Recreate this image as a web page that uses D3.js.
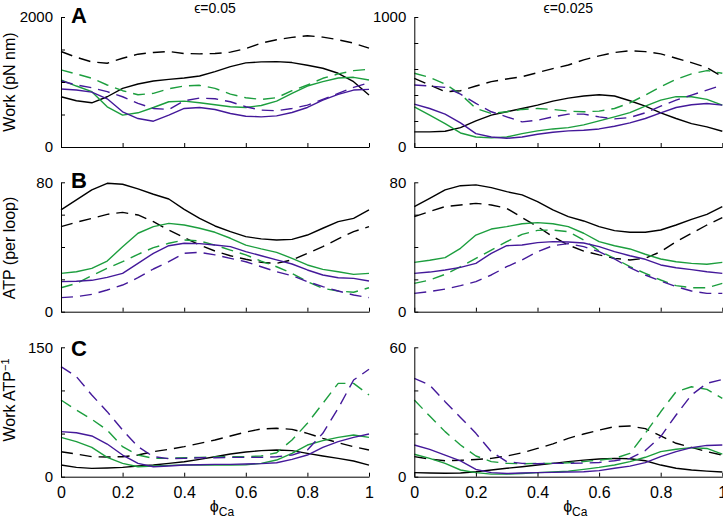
<!DOCTYPE html>
<html><head><meta charset="utf-8">
<script src="https://cdn.jsdelivr.net/npm/d3@7"></script>
<style>
body{margin:0;background:#fff}
svg{display:block}
text{font-family:"Liberation Sans",Arial,Helvetica,sans-serif;fill:#000}
</style>
</head><body>
<svg id="c" width="723" height="519"></svg>
<script>
// ---- x categories (phi_Ca) ----
const phi = [0,0.05,0.1,0.15,0.2,0.25,0.3,0.35,0.4,0.45,0.5,0.55,0.6,0.65,0.7,0.75,0.8,0.85,0.9,0.95,1];
const xTicks = [0,0.2,0.4,0.6,0.8,1];
const xTickLabels = ["0","0.2","0.4","0.6","0.8","1"];
const colTitles = ["\u03F5=0.05","\u03F5=0.025"];
const rowLetters = ["A","B","C"];

// ---- y axis maxima and tick values ----
const yMaxA = [2000,1000], yTicksAL = [0,500,1000,1500,2000], yTicksAR = [0,200,400,600,800,1000];
const yMaxB = [80,80],     yTicksBL = [0,20,40,60,80],      yTicksBR = [0,20,40,60,80];
const yMaxC = [150,60],    yTicksCL = [0,50,100,150],       yTicksCR = [0,20,40,60];

// ---- A: Work (pN nm), eps=0.05 ----
const aL_blk  = [773,711,680,773,902,969,1015,1041,1062,1093,1160,1237,1294,1309,1314,1299,1258,1211,1134,1005,799];
const aL_blkD = [1469,1380,1309,1289,1366,1428,1454,1469,1438,1433,1438,1459,1515,1598,1650,1686,1711,1691,1650,1598,1520];
const aL_grn  = [1031,938,851,619,490,526,608,696,706,680,650,619,608,639,706,825,938,1005,1062,1072,1031];
const aL_grnD = [1186,1124,1057,954,866,804,825,897,938,949,902,814,758,732,758,866,954,1057,1124,1175,1196];
const aL_pur  = [892,876,845,742,541,438,397,490,593,608,577,516,474,464,479,531,608,722,809,876,887];
const aL_purD = [1015,954,912,851,773,670,593,577,711,753,742,696,619,567,557,593,644,732,825,918,990];
// ---- A: eps=0.025 ----
const aR_blk  = [116,116,121,149,201,245,271,296,322,353,376,392,402,392,356,314,263,219,180,155,121];
const aR_blkD = [528,477,425,433,469,503,523,541,572,603,631,670,701,727,740,734,716,683,649,611,541];
const aR_grn  = [309,245,180,108,77,70,77,103,124,139,149,170,201,232,265,314,361,387,387,366,322];
const aR_grnD = [567,536,484,407,296,258,271,289,296,289,276,271,276,296,340,399,464,521,562,588,567];
const aR_pur  = [330,296,253,186,103,77,67,77,98,113,124,129,139,160,186,219,263,304,325,335,322];
const aR_purD = [477,469,459,407,335,271,232,193,206,232,253,253,232,216,227,263,314,361,399,438,477];

// ---- B: ATP (per loop), eps=0.05 ----
const bL_blk  = [62.9,69.1,75.3,79.4,78.8,75.9,72.6,69.7,63.3,57.7,53,49.5,46.4,45,44.3,44.7,47.4,51.6,55.7,57.7,62.9];
const bL_blkD = [52.6,55.3,57.7,60.2,61.4,59.8,55.7,50.5,45.8,41.2,37.5,34.6,32.4,30.5,29.9,32,36.1,40.2,45,49.5,52.6];
const bL_grn  = [23.7,24.7,26.8,31.3,40.2,48.5,52.6,54.6,53.6,51.6,49.1,45.4,41.2,38.8,36.7,33,28.9,26.2,24.7,23.1,23.7];
const bL_grnD = [14.8,17.5,22.3,26.8,30.9,35.5,39.6,42.3,44.3,43.7,41.2,38.1,35.1,31.3,27.8,23.7,18.6,14.4,12.8,12,14.8];
const bL_pur  = [18.6,18.8,19.4,21.2,23.7,29.9,36.1,40.8,42.3,42.1,41.2,40.2,37.1,34.6,32,29.5,25.8,22.7,21,20.6,19];
const bL_purD = [8.7,9.3,10.7,13.4,16.5,21,26.4,30.9,36.1,36.7,35.1,33,30.9,27.8,24.7,22.3,18.6,15.5,12.8,10.3,8.7];
// ---- B: eps=0.025 ----
const bR_blk  = [65,70.1,75.3,77.9,78.4,76.7,74.2,72.2,68,62.9,58.8,56.1,52.6,50.1,49.1,49.1,50.5,53.6,57.1,60.2,65];
const bR_blkD = [58.8,61.9,65,66,67,66,63.9,58.2,52.6,46.4,41.2,37.5,35.1,33,32,33,37.1,43.3,48.5,53.6,58.2];
const bR_grn  = [30.5,31.8,33.4,39.2,47.4,51.1,52.6,54.4,55.1,54.4,52.6,48.5,43.3,40.8,38.8,35.5,32.6,30.9,29.9,29.3,30.5];
const bR_grnD = [17.5,19.6,23.1,27.8,33,38.1,43.3,47.8,50.3,50.5,49.5,44.3,37.5,33,27.8,23.7,19.6,16.1,14.8,14.8,17.5];
const bR_pur  = [23.7,24.5,25.8,27.4,29.9,36.1,40.8,41.2,42.7,43.3,43.1,42.5,40.2,37.1,34.6,32.4,28.9,27.2,26,24.7,23.7];
const bR_purD = [11.3,12.4,14,16.1,18.6,22.7,27.8,32,37.1,40.8,42.1,40.2,37.1,32.6,27.2,22.7,19,15.5,12.8,11.3,11.3];

// ---- C: Work ATP^-1, eps=0.05 ----
const cL_blk  = [13.5,10.8,9.7,10.1,10.8,12.4,13.5,15.5,17.4,20.1,23.2,26.3,28.6,30.2,30.9,30.2,27.1,24,21.3,18.2,13.5];
const cL_blkD = [29,26.3,23.2,22.8,23.2,25.1,29,31.7,34.8,38.7,42.5,47.2,51.8,55.3,56.1,54.9,50.3,44.5,39.4,34.8,30.9];
const cL_grn  = [45.6,40.6,34,22.4,15.5,11.6,12.4,13.1,13.5,13.5,13.5,13.5,13.9,15.5,19.3,27.1,36.7,41.8,45.6,48.3,45.6];
const cL_grnD = [88.9,77.3,66.5,54.1,34.8,25.1,21.3,21.3,22,22.4,22.8,23.2,23.2,24,27.8,42.5,61.9,85,108.2,108.2,94.7];
const cL_pur  = [52.2,51,47.2,37.9,25.1,15.5,11.6,12.4,13.5,13.9,14.3,14.3,14.7,15.1,16.2,20.1,25.1,34,40.6,45.6,49.5];
const cL_purD = [127.6,116,94.7,75.4,54.1,34.8,23.2,20.9,21.3,22,22,22.4,22.4,22.4,23.2,25.1,30.9,50.3,79.3,112.1,124.5];
// ---- C: eps=0.025 ----
const cR_blk  = [1.9,1.7,1.6,1.7,2.3,3.1,3.9,4.6,5.4,6.2,7,7.7,8.2,8.5,8.3,7.4,5.4,3.9,3.1,2.6,2.2];
const cR_blkD = [9.3,8.2,7.4,7.6,8,8.5,9.6,11.1,13.1,15.2,17.8,19.8,21.6,23.2,23.5,22.3,18.9,15.5,13.6,11.6,10];
const cR_grn  = [10.4,8.5,6.2,3.1,1.9,1.2,1.2,1.5,1.9,2.2,2.6,3.4,4.3,5.4,7,9,11.6,12.7,13.5,13.1,10.5];
const cR_grnD = [35.6,28.1,20.9,14.7,9.6,7,6.2,6,6.2,6.2,6.5,7,7.7,8.5,10.8,20.1,30.1,39.4,41.7,40.5,36.3];
const cR_pur  = [14.7,12.7,10,7.3,3.4,1.9,1.5,1.7,1.9,2,2.2,2.3,2.8,3.9,4.9,6.5,9.3,11.6,13.5,14.5,14.7];
const cR_purD = [45.6,42.5,34.8,27.5,20.1,11.6,7,6.2,6,6.2,6.2,6.3,6.6,7.4,8.5,12.1,18.6,28.6,37.9,43.3,45.1];

// ---- styling / layout ----
const BLACK = "#000000", GREEN = "#1c9e3e", PURPLE = "#44199a";
const DASH = "12,7";
const colX = [[61,369],[414.3,722.3]];
const rowY = [[17,147],[182.3,311.7],[347.3,476.7]];

const panels = [
  {r:0,c:0,max:yMaxA[0],ticks:yTicksAL,series:[aL_blkD,aL_blk,aL_grnD,aL_grn,aL_purD,aL_pur]},
  {r:0,c:1,max:yMaxA[1],ticks:yTicksAR,series:[aR_blkD,aR_blk,aR_grnD,aR_grn,aR_purD,aR_pur]},
  {r:1,c:0,max:yMaxB[0],ticks:yTicksBL,series:[bL_blkD,bL_blk,bL_grnD,bL_grn,bL_purD,bL_pur]},
  {r:1,c:1,max:yMaxB[1],ticks:yTicksBR,series:[bR_blkD,bR_blk,bR_grnD,bR_grn,bR_purD,bR_pur]},
  {r:2,c:0,max:yMaxC[0],ticks:yTicksCL,series:[cL_blkD,cL_blk,cL_grnD,cL_grn,cL_purD,cL_pur]},
  {r:2,c:1,max:yMaxC[1],ticks:yTicksCR,series:[cR_blkD,cR_blk,cR_grnD,cR_grn,cR_purD,cR_pur]}
];
const seriesStyle = [
  {color:BLACK,dash:DASH},{color:BLACK,dash:null},
  {color:GREEN,dash:DASH},{color:GREEN,dash:null},
  {color:PURPLE,dash:DASH},{color:PURPLE,dash:null}
];

const svg = d3.select("#c");

panels.forEach(p => {
  const x = d3.scaleLinear().domain([0,1]).range(colX[p.c]);
  const y = d3.scaleLinear().domain([0,p.max]).range([rowY[p.r][1],rowY[p.r][0]]);
  const g = svg.append("g");

  const line = d3.line().x((d,i)=>x(phi[i])).y(d=>y(d));
  p.series.forEach((s,k) => {
    const st = seriesStyle[k];
    g.append("path").datum(s)
      .attr("d", line)
      .attr("fill","none")
      .attr("stroke", st.color)
      .attr("stroke-width", 1.4)
      .attr("stroke-linejoin","round")
      .attr("stroke-dasharray", st.dash);
  });

  // y axis
  const ya = d3.axisLeft(y).tickValues(p.ticks)
    .tickFormat(v => (v===0 || v===p.max) ? String(v) : "")
    .tickSizeInner(-4).tickSizeOuter(0).tickPadding(8);
  const yg = g.append("g").attr("transform",`translate(${colX[p.c][0]},0)`).call(ya);
  yg.selectAll("text").style("font-size","15px").attr("font-family",null);

  // x axis
  const xa = d3.axisBottom(x).tickValues(xTicks)
    .tickFormat((v,i) => p.r===2 ? xTickLabels[i] : "")
    .tickSizeInner(-4).tickSizeOuter(0).tickPadding(10);
  const xg = g.append("g").attr("transform",`translate(0,${rowY[p.r][1]})`).call(xa);
  xg.selectAll("text").style("font-size","16px").attr("font-family",null);

  [yg,xg].forEach(a => {
    a.select(".domain").attr("stroke","#000").attr("stroke-width",1);
    a.selectAll(".tick line").attr("stroke","#000").attr("stroke-width",1);
  });
});

// column titles
colTitles.forEach((t,c) => {
  svg.append("text").attr("x",(colX[c][0]+colX[c][1])/2).attr("y",13)
    .attr("text-anchor","middle").style("font-size","14px").text(t);
});

// row letters
const letterY = [23,188,356];
rowLetters.forEach((t,r) => {
  svg.append("text").attr("x",71).attr("y",letterY[r])
    .style("font-size","22px").style("font-weight","bold").text(t);
});

// y labels
const yLab = [{y:82,t:"Work (pN nm)"},{y:248,t:"ATP (per loop)"}];
yLab.forEach(l => {
  svg.append("text").attr("transform",`translate(15,${l.y}) rotate(-90)`)
    .attr("text-anchor","middle").style("font-size","16px").text(l.t);
});
const yl3 = svg.append("text").attr("transform","translate(15,400) rotate(-90)")
  .attr("text-anchor","middle").style("font-size","16px");
yl3.append("tspan").text("Work ATP");
yl3.append("tspan").attr("dy",-6).style("font-size","11px").text("\u22121");

// x labels
colX.forEach(cx => {
  const t = svg.append("text").attr("x",(cx[0]+cx[1])/2+7).attr("y",512)
    .attr("text-anchor","middle").style("font-size","16px");
  t.append("tspan").text("\u03D5");
  t.append("tspan").attr("dy",4).style("font-size","12px").text("Ca");
});
</script>
</body></html>
